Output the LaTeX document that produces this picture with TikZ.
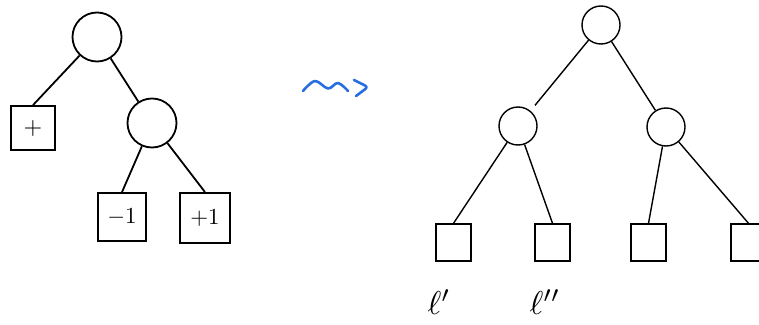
\documentclass[tikz,border=0pt]{standalone}
\usepackage{graphicx}
\usetikzlibrary{calc}
\definecolor{squig}{RGB}{40,110,225}
\newcommand{\bigtxt}[2]{\scalebox{#1}{#2}}
\begin{document}
\begin{tikzpicture}[x=1pt,y=-1pt,
  lcirc/.style={draw,circle,line width=1.8pt,minimum size=49pt,inner sep=0pt},
  lbox/.style={draw,rectangle,line width=1.8pt,minimum width=#1,minimum height=#1,inner sep=0pt},
  ledge/.style={line width=1.8pt},
  rcirc/.style={draw,circle,line width=1.4pt,minimum size=38pt,inner sep=0pt},
  rbox/.style={draw,rectangle,line width=1.4pt,minimum width=35pt,minimum height=37pt,inner sep=0pt},
  redge/.style={line width=1.4pt},
  lab/.style={inner sep=0pt},
  squigline/.style={squig,line width=2.6pt,line cap=round,line join=round}]
\useasboundingbox (0,0) rectangle (759,324);
\clip (0,0) rectangle (759,324);
% left tree
\node[lcirc] (a) at (97,37) {};
\node[lbox=44pt] (b) at (33,128) {\bigtxt{2.4}{$+$}};
\node[lcirc] (c) at (152,123) {};
\node[lbox=48pt] (d) at (122,217) {\bigtxt{2.3}{$-1$}};
\node[lbox=50pt] (e) at (205,218) {\bigtxt{2.3}{$+1$}};
\draw[ledge] (a) -- (b.north);
\draw[ledge] (a) -- (c);
\draw[ledge] (c) -- (d.north);
\draw[ledge] (c) -- (e.north);
% squiggle arrow
\coordinate (s0) at (303,91);
\coordinate (s1) at (348,91);
\draw[squigline]
  plot[smooth,tension=0.6] coordinates {(s0) (315,81) (328,88.5) (338,83) (s1)};
\draw[squigline,rounded corners=3pt] (354,80) -- (368,87) -- (356,96);
% right tree
\node[rcirc] (r) at (601,25) {};
\node[rcirc] (m1) at (518,126) {};
\node[rcirc] (m2) at (666,127) {};
\node[rbox] (l1) at (453.5,242.5) {};
\node[rbox] (l2) at (552.5,242.5) {};
\node[rbox] (l3) at (648.5,242.5) {};
\node[rbox] (l4) at (748.5,242.5) {};
\draw[redge,shorten >=7pt] (r) -- (m1);
\draw[redge] (r) -- (m2);
\draw[redge] (m1) -- (l1.north);
\draw[redge] (m1) -- (l2.north);
\draw[redge] (m2) -- (l3.north);
\draw[redge] (m2) -- (l4.north);
\node[lab] (t1) at (439,302) {\bigtxt{3.3}{$\ell'$}};
\node[lab] (t2) at (545,302) {\bigtxt{3.3}{$\ell''$}};
\end{tikzpicture}
\end{document}
